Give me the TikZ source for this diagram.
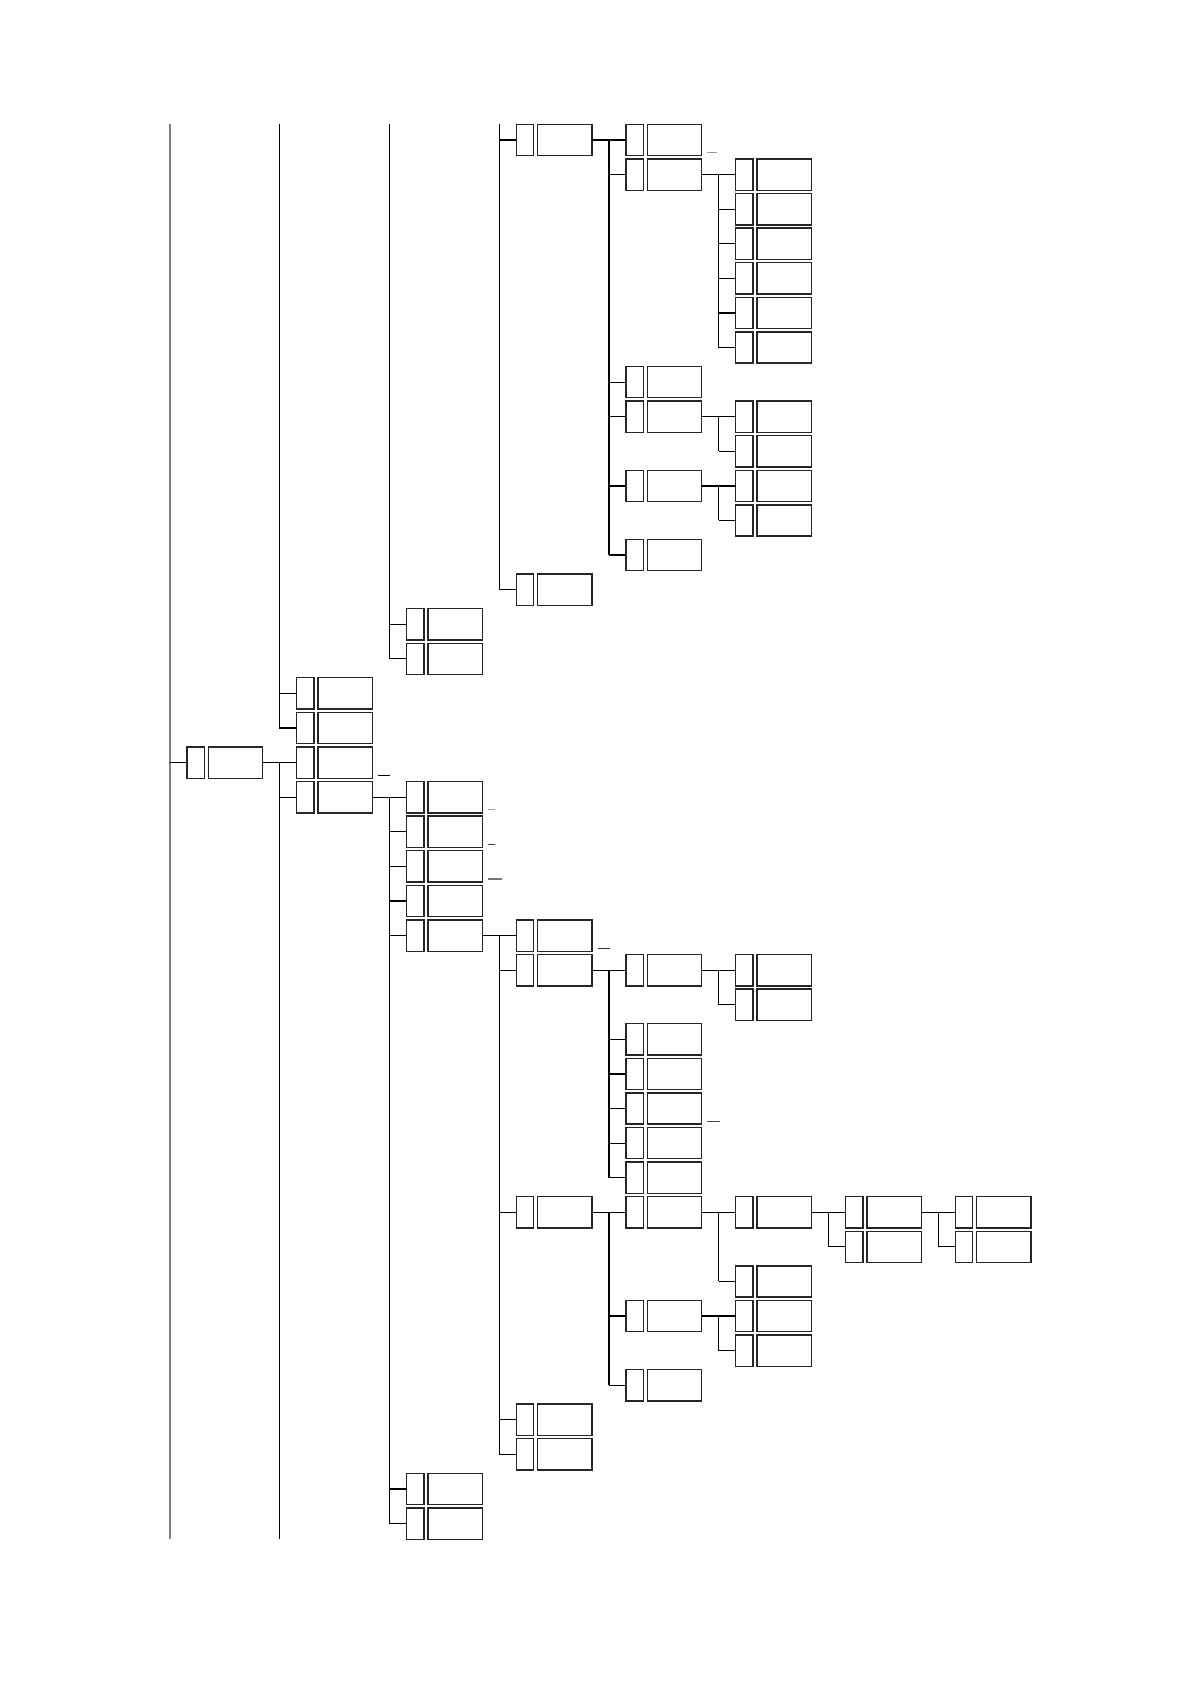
\documentclass[tikz,border=0pt]{standalone}
\tikzset{
  sbox/.style={draw=black!85, line width=0.7pt, minimum width=8.7pt, minimum height=15.65pt, inner sep=0pt, outer sep=0pt},
  bbox/.style={draw=black!85, line width=0.7pt, minimum width=27.15pt, minimum height=15.65pt, inner sep=0pt, outer sep=0pt},
  conn/.style={draw=black, line width=0.6pt},
  trunkone/.style={draw=black!50, line width=0.6pt},
  tickline/.style={line width=0.6pt},
}
% box pair at level #1, row #2
\newcommand\boxpairat[2]{%
  \node[sbox] (sL#1R#2) at ({195.7+109.75*(#1-1)},{140+34.59*(#2)}) {};
  \node[bbox] (bL#1R#2) at ({235.55+109.75*(#1-1)},{140+34.59*(#2)}) {};}
% family: parent level #1, child level #2, parent row #3, last child row #4, other child rows #5
\newcommand\treefamily[5]{%
  \draw[conn] (bL#1R#3.east) -- (sL#2R#3.west);
  \draw[conn] ([xshift=-8.5pt]sL#2R#3.west) -- ([xshift=-8.5pt]sL#2R#4.west);
  \foreach \rr in {#5} {\draw[conn] ([xshift=-8.5pt]sL#2R\rr.west) -- (sL#2R\rr.west);}}
\begin{document}
\begin{tikzpicture}[x=0.5pt,y=-0.5pt]
\useasboundingbox (0,0) rectangle (1191,1684);
\fill[white] (0,0) rectangle (1191,1684);
% boxes
\boxpairat{1}{18}
\foreach \r in {16,17,18,19} {\boxpairat{2}{\r}}
\foreach \r in {14,15,19,20,21,22,23,39,40} {\boxpairat{3}{\r}}
\foreach \r in {0,13,23,24,31,37,38} {\boxpairat{4}{\r}}
\foreach \r in {0,1,7,8,10,12,24,26,27,28,29,30,31,34,36} {\boxpairat{5}{\r}}
\foreach \r in {1,2,3,4,5,6,8,9,10,11,24,25,31,33,34,35} {\boxpairat{6}{\r}}
\foreach \r in {31,32} {\boxpairat{7}{\r}}
\foreach \r in {31,32} {\boxpairat{8}{\r}}
% free trunk ends
\coordinate (tonetop) at (170,124.3);
\coordinate (tonebot) at (170,1539.3);
\coordinate (ttwotop) at (279.75,124.3);
\coordinate (ttwobot) at (279.75,1539.3);
\coordinate (tthreetop) at (389.5,124.3);
\coordinate (tfourtop) at (499.25,124.3);
% level 1 trunk
\draw[trunkone] (tonetop) -- (tonebot);
\draw[conn] ([xshift=-8.5pt]sL1R18.west) -- (sL1R18.west);
% level 2 trunks
\draw[conn] (ttwotop) |- (sL2R17.west);
\draw[conn] ([xshift=-8.5pt]sL2R16.west) -- (sL2R16.west);
\draw[conn] (bL1R18.east) -- (sL2R18.west);
\draw[conn] ([xshift=-8.5pt]sL2R18.west) -- (ttwobot);
\draw[conn] ([xshift=-8.5pt]sL2R19.west) -- (sL2R19.west);
% level 3 top trunk
\draw[conn] (tthreetop) |- (sL3R15.west);
\draw[conn] ([xshift=-8.5pt]sL3R14.west) -- (sL3R14.west);
% level 4 top trunk
\draw[conn] (tfourtop) |- (sL4R13.west);
\draw[conn] ([xshift=-8.5pt]sL4R0.west) -- (sL4R0.west);
% families
\treefamily{2}{3}{19}{40}{20,21,22,23,39,40}
\treefamily{3}{4}{23}{38}{24,31,37,38}
\treefamily{4}{5}{0}{12}{1,7,8,10,12}
\treefamily{4}{5}{24}{30}{26,27,28,29,30}
\treefamily{4}{5}{31}{36}{34,36}
\treefamily{5}{6}{1}{6}{2,3,4,5,6}
\treefamily{5}{6}{8}{9}{9}
\treefamily{5}{6}{10}{11}{11}
\treefamily{5}{6}{24}{25}{25}
\treefamily{5}{6}{31}{33}{33}
\treefamily{5}{6}{34}{35}{35}
\treefamily{6}{7}{31}{32}{32}
\treefamily{7}{8}{31}{32}{32}
% small marks beside boxes
\draw[tickline, black!40] ([shift={(5,-3)}]bL5R0.south east) -- ++(10.6,0);
\draw[tickline, black] ([shift={(5.6,-3)}]bL2R18.south east) -- ++(12,0);
\draw[tickline, black!40] ([shift={(6,-3)}]bL3R19.south east) -- ++(6.7,0);
\draw[tickline, black!75] ([shift={(6,-3)}]bL3R20.south east) -- ++(6.7,0);
\draw[tickline, black!55] ([shift={(6,-3)}]bL3R21.south east) -- ++(14,0);
\draw[tickline, black!80] ([shift={(5.7,-3)}]bL4R23.south east) -- ++(12.3,0);
\draw[tickline, black!70] ([shift={(5.7,-3)}]bL5R28.south east) -- ++(12.3,0);
\end{tikzpicture}
\end{document}
